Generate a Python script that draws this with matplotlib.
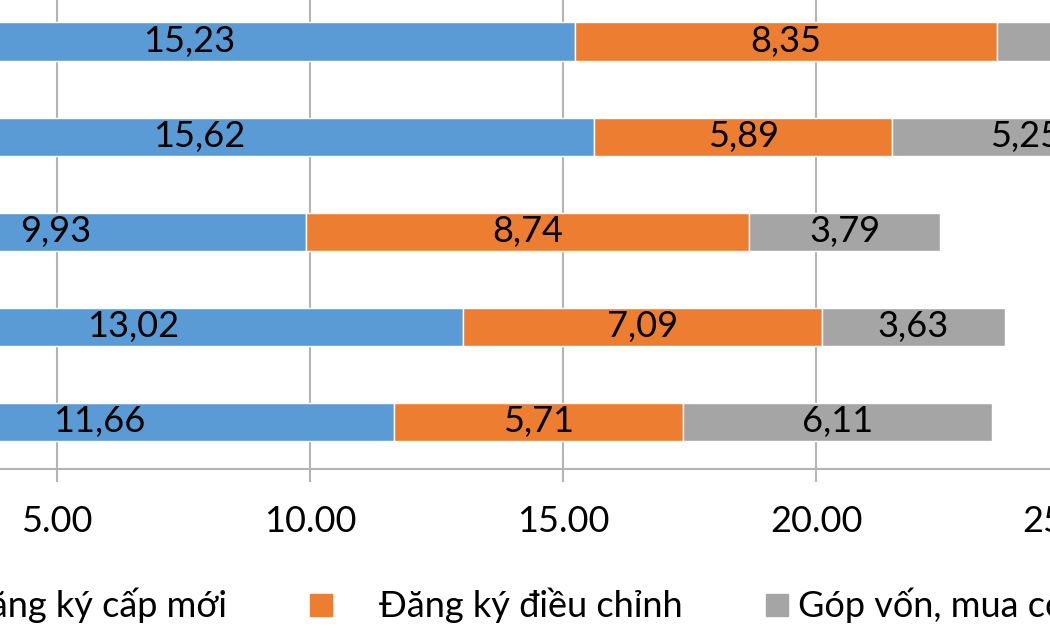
import numpy as np
import matplotlib.pyplot as plt
from matplotlib.lines import Line2D

plt.rcParams['font.family'] = ['Lato', 'DejaVu Sans']

# categories bottom -> top (category names are cropped out of the reference)
periods = ["2019", "2020", "2021", "2022", "2023"]
cap_moi = [11.66, 13.02, 9.93, 15.62, 15.23]
dieu_chinh = [5.71, 7.09, 8.74, 5.89, 8.35]
gop_von = [6.11, 3.63, 3.79, 5.25, 4.12]
series_names = ["Đăng ký cấp mới", "Đăng ký điều chỉnh", "Góp vốn, mua cổ phần"]
colors = ["#5B9BD5", "#ED7D31", "#A5A5A5"]
xticks = [0, 5, 10, 15, 20, 25, 30]

def main():
    fig = plt.figure(figsize=(10.5, 6.3), dpi=100)
    # plot area is wider than the visible crop, left part falls off the figure
    ax = fig.add_axes([-196/1050, 161/630, 30*50.6/1050, 475/630])

    y = np.arange(len(periods))
    left = np.zeros(len(periods))
    for vals, name, col in zip([cap_moi, dieu_chinh, gop_von], series_names, colors):
        vals = np.array(vals)
        bars = ax.barh(y, vals, left=left, height=0.4, color=col,
                       edgecolor="white", linewidth=1, zorder=3, label=name)
        labels = [f"{v:.2f}".replace(".", ",") for v in vals]
        ax.bar_label(bars, labels=labels, label_type="center",
                     fontsize=26, color="black")
        left += vals

    ax.set_xlim(0, 30)
    ax.set_ylim(-0.5, 4.5)
    ax.set_xticks(xticks)
    ax.set_xticklabels([f"{t:.2f}" for t in xticks], fontsize=26)
    ax.set_yticks(y)
    ax.set_yticklabels(periods, fontsize=26)
    ax.xaxis.grid(True, color="#b4b4b4", linewidth=1.5, zorder=0)
    for s in ["top", "right", "left"]:
        ax.spines[s].set_visible(False)
    ax.spines["bottom"].set_color("#b4b4b4")
    ax.spines["bottom"].set_linewidth(1.5)
    ax.tick_params(axis="x", length=9, width=1.5, color="#b4b4b4", pad=17)
    ax.tick_params(axis="y", length=0)

    handles = [Line2D([], [], marker="s", linestyle="none", markersize=16,
                      markerfacecolor=c, markeredgecolor=c) for c in colors]
    legend_labels = [series_names[0], "    " + series_names[1], series_names[2]]
    fig.legend(handles, legend_labels, loc="center", ncol=3,
               bbox_to_anchor=(0.5138, 0.04), frameon=False, fontsize=26,
               handlelength=0.8, handletextpad=0.2, columnspacing=2.2)

    fig.savefig("out.png", dpi=100)

if __name__ == '__main__':
    main()
